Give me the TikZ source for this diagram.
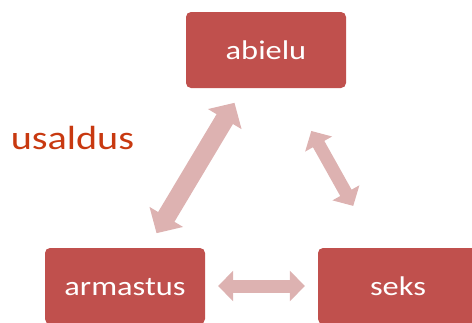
\documentclass[tikz,border=0pt]{standalone}
\usepackage{fontspec}
\setmainfont{Carlito}
\usetikzlibrary{arrows.meta}
\definecolor{boxred}{RGB}{192,80,77}
\definecolor{arrowpink}{RGB}{221,178,177}
\definecolor{textorange}{RGB}{200,57,16}
\begin{document}
\begin{tikzpicture}[x=1pt,y=-1pt,
  box/.style={fill=boxred, rounded corners=5pt, minimum width=160pt, minimum height=76pt,
    inner sep=0pt, text=white, text height=18.6pt, text depth=0pt,
    font=\fontsize{27}{30}\selectfont},
  link/.style={draw=arrowpink, line width=13pt,
    {Triangle[length=15pt,width=30pt]}-{Triangle[length=15pt,width=30pt]}},
  biglink/.style={draw=arrowpink, line width=19pt,
    {Triangle[length=19pt,width=38pt]}-{Triangle[length=19pt,width=38pt]}},
]
\useasboundingbox (0,0) rectangle (472,322);
\node[box] (abielu) at (266,50) {\scalebox{1.2}[1]{abielu}};
\node[box] (armastus) at (125,286) {\scalebox{1.2}[1]{armastus}};
\node[box] (seks) at (398,286) {\scalebox{1.2}[1]{seks}};
\node[anchor=base, inner sep=0pt, text=textorange, font=\fontsize{33.5}{36}\selectfont]
  (usaldus) at (72.5,149) {\scalebox{1.2}[1]{usaldus}};
\draw[biglink, shorten <=17pt, shorten >=17pt] (armastus) -- (abielu);
\draw[link, shorten <=49pt, shorten >=48pt] (abielu) -- (seks);
\draw[link, shorten <=13pt, shorten >=13pt] (armastus) -- (seks);
\end{tikzpicture}
\end{document}
